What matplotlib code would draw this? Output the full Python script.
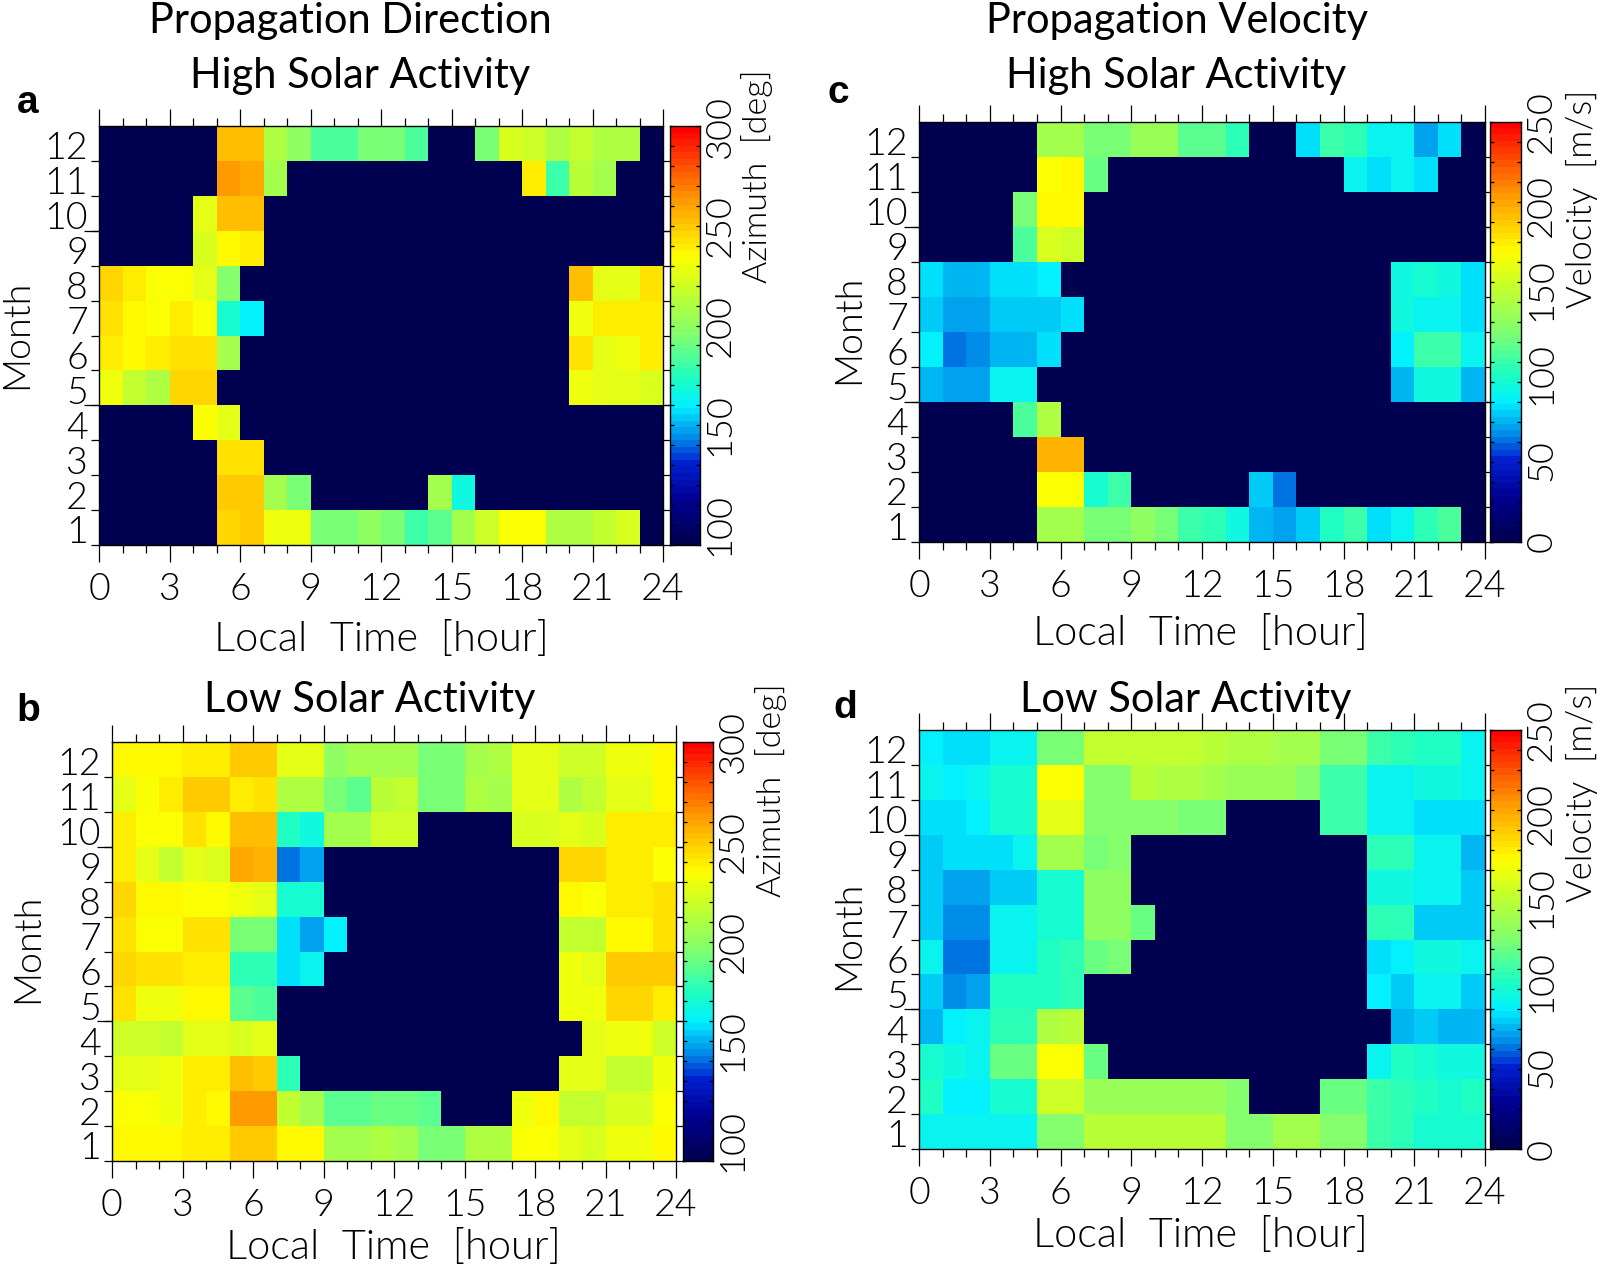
import numpy as np
import matplotlib
matplotlib.use('Agg')
from matplotlib import pyplot as plt
from matplotlib.colors import LinearSegmentedColormap

N = np.nan

# rows are months 1..12, columns are local time hours 0..23
azimuth_high = [
    [N, N, N, N, N, 249, 250, 232, 232, 198, 198, 204, 199, 187, 191, 211, 222, 237, 237, 214, 214, 220, 228, N],
    [N, N, N, N, N, 252, 252, 211, 199, N, N, N, N, N, 211, 174, N, N, N, N, N, N, N, N],
    [N, N, N, N, N, 245, 245, N, N, N, N, N, N, N, N, N, N, N, N, N, N, N, N, N],
    [N, N, N, N, 236, 230, N, N, N, N, N, N, N, N, N, N, N, N, N, N, N, N, N, N],
    [234, 219, 214, 247, 247, N, N, N, N, N, N, N, N, N, N, N, N, N, N, N, 233, 231, 231, 228],
    [241, 238, 241, 246, 245, 211, N, N, N, N, N, N, N, N, N, N, N, N, N, N, 246, 231, 232, 243],
    [245, 238, 236, 241, 236, 178, 168, N, N, N, N, N, N, N, N, N, N, N, N, N, 233, 243, 242, 243],
    [247, 242, 236, 235, 229, 201, N, N, N, N, N, N, N, N, N, N, N, N, N, N, 255, 229, 229, 246],
    [N, N, N, N, 226, 238, 241, N, N, N, N, N, N, N, N, N, N, N, N, N, N, N, N, N],
    [N, N, N, N, 229, 255, 255, N, N, N, N, N, N, N, N, N, N, N, N, N, N, N, N, N],
    [N, N, N, N, N, 263, 261, 211, N, N, N, N, N, N, N, N, N, N, 242, 187, 218, 211, N, N],
    [N, N, N, N, N, 255, 255, 215, 204, 189, 189, 199, 197, 189, N, N, 198, 226, 224, 215, 220, 213, 213, N],
]
azimuth_low = [
    [238, 238, 240, 242, 242, 250, 250, 240, 240, 211, 211, 213, 211, 199, 199, 213, 213, 236, 236, 231, 228, 232, 232, 238],
    [236, 236, 233, 242, 238, 264, 264, 219, 211, 191, 191, 195, 195, 193, N, N, N, 233, 238, 219, 219, 226, 226, 236],
    [231, 229, 233, 243, 241, 254, 252, 184, N, N, N, N, N, N, N, N, N, N, N, 231, 231, 219, 219, 232],
    [224, 224, 219, 231, 229, 228, 231, N, N, N, N, N, N, N, N, N, N, N, N, N, 231, 232, 232, 222],
    [245, 233, 233, 238, 238, 193, 189, N, N, N, N, N, N, N, N, N, N, N, N, 233, 233, 249, 249, 242],
    [247, 245, 245, 243, 242, 182, 182, 163, 169, N, N, N, N, N, N, N, N, N, N, 233, 229, 250, 250, 251],
    [245, 236, 236, 245, 245, 199, 199, 164, 155, 166, N, N, N, N, N, N, N, N, N, 221, 219, 238, 238, 245],
    [247, 238, 238, 236, 236, 232, 231, 178, 178, N, N, N, N, N, N, N, N, N, N, 238, 236, 243, 243, 245],
    [241, 229, 221, 229, 226, 260, 258, 148, 155, N, N, N, N, N, N, N, N, N, N, 247, 249, 242, 243, 236],
    [242, 236, 236, 246, 240, 254, 254, 179, 174, 211, 211, 224, 224, N, N, N, N, 228, 228, 229, 228, 242, 242, 241],
    [229, 236, 241, 250, 250, 243, 246, 215, 215, 197, 191, 218, 219, 199, 199, 213, 211, 231, 231, 215, 219, 229, 229, 238],
    [238, 238, 238, 241, 241, 250, 250, 229, 229, 204, 211, 211, 211, 199, 199, 211, 213, 231, 231, 224, 224, 232, 232, 240],
]
velocity_high = [
    [N, N, N, N, N, 140, 138, 122, 122, 132, 122, 108, 102, 90, 74, 70, 75, 100, 108, 82, 88, 104, 112, N],
    [N, N, N, N, N, 170, 170, 95, 108, N, N, N, N, N, 75, 60, N, N, N, N, N, N, N, N],
    [N, N, N, N, N, 198, 198, N, N, N, N, N, N, N, N, N, N, N, N, N, N, N, N, N],
    [N, N, N, N, 110, 144, N, N, N, N, N, N, N, N, N, N, N, N, N, N, N, N, N, N],
    [74, 69, 69, 88, 88, N, N, N, N, N, N, N, N, N, N, N, N, N, N, N, 74, 92, 90, 74],
    [85, 62, 64, 74, 74, 82, N, N, N, N, N, N, N, N, N, N, N, N, N, N, 84, 106, 106, 86],
    [78, 68, 68, 75, 75, 77, 79, N, N, N, N, N, N, N, N, N, N, N, N, N, 90, 88, 86, 79],
    [82, 74, 73, 80, 81, 85, N, N, N, N, N, N, N, N, N, N, N, N, N, N, 92, 95, 90, 80],
    [N, N, N, N, 112, 160, 154, N, N, N, N, N, N, N, N, N, N, N, N, N, N, N, N, N],
    [N, N, N, N, 122, 173, 175, N, N, N, N, N, N, N, N, N, N, N, N, N, N, N, N, N],
    [N, N, N, N, N, 171, 174, 120, N, N, N, N, N, N, N, N, N, N, 86, 80, 86, 80, N, N],
    [N, N, N, N, N, 140, 140, 124, 124, 136, 136, 116, 116, 104, N, N, 80, 108, 104, 86, 86, 70, 79, N],
]
velocity_low = [
    [88, 86, 86, 86, 86, 128, 128, 146, 146, 146, 146, 146, 146, 128, 128, 138, 138, 126, 126, 106, 104, 96, 96, 94],
    [100, 85, 84, 94, 94, 155, 155, 136, 136, 136, 136, 134, 134, 128, N, N, N, 120, 120, 106, 104, 98, 96, 98],
    [96, 90, 88, 118, 118, 170, 170, 120, N, N, N, N, N, N, N, N, N, N, N, 86, 98, 94, 92, 92],
    [72, 85, 88, 104, 104, 142, 146, N, N, N, N, N, N, N, N, N, N, N, N, N, 74, 76, 74, 72],
    [78, 66, 68, 100, 100, 98, 102, N, N, N, N, N, N, N, N, N, N, N, N, 84, 78, 86, 86, 78],
    [86, 62, 62, 88, 88, 98, 102, 120, 122, N, N, N, N, N, N, N, N, N, N, 80, 84, 90, 90, 86],
    [76, 63, 63, 88, 88, 94, 94, 130, 130, 118, N, N, N, N, N, N, N, N, N, 104, 102, 78, 78, 76],
    [78, 67, 67, 78, 78, 96, 96, 130, 130, N, N, N, N, N, N, N, N, N, N, 92, 92, 88, 88, 78],
    [78, 80, 82, 82, 88, 140, 140, 124, 128, N, N, N, N, N, N, N, N, N, N, 102, 102, 86, 86, 74],
    [80, 79, 84, 94, 94, 162, 162, 126, 126, 126, 126, 124, 124, N, N, N, N, 106, 108, 86, 86, 82, 80, 80],
    [86, 85, 86, 94, 94, 168, 168, 128, 128, 146, 144, 142, 140, 136, 136, 134, 126, 106, 106, 86, 86, 90, 90, 86],
    [84, 79, 79, 86, 86, 124, 124, 150, 150, 152, 152, 152, 146, 144, 144, 140, 140, 122, 122, 106, 104, 98, 98, 86],
]

hour_ticks = [0, 3, 6, 9, 12, 15, 18, 21, 24]
month_labels = [1, 2, 3, 4, 5, 6, 7, 8, 9, 10, 11, 12]
azimuth_cbar = [100, 150, 200, 250, 300]
azimuth_cbar_pos = [0.048, 0.287, 0.523, 0.763, 1.0]
velocity_cbar = [0, 50, 100, 150, 200, 250]
velocity_cbar_pos = [0.0, 0.195, 0.40, 0.60, 0.80, 1.0]

FIG_W, FIG_H = 1598, 1270
plt.rcParams['font.family'] = ['Lato', 'DejaVu Sans']
THIN = 300

cmap = LinearSegmentedColormap.from_list('tec', [
    (0.00, '#000050'), (0.10, '#000090'), (0.19, '#0020d0'), (0.25, '#0088e8'),
    (0.33, '#00f0ff'), (0.40, '#20ffc0'), (0.50, '#80ff70'), (0.60, '#c0ff30'),
    (0.69, '#ffff00'), (0.82, '#ffa000'), (0.91, '#ff5000'), (1.00, '#ff0000')], N=64)
cmap.set_bad('#000050')

fig = plt.figure(figsize=(FIG_W / 100, FIG_H / 100), dpi=100)


def box(x0, y0, x1, y1):
    # pixel box, y measured from the top of the picture
    return [x0 / FIG_W, 1 - y1 / FIG_H, (x1 - x0) / FIG_W, (y1 - y0) / FIG_H]


def put(x, y, s, **kw):
    fig.text(x / FIG_W, 1 - y / FIG_H, s, ha='center', va='center', **kw)


def panel(values, vmin, vmax, ax_box, cb_box, cb_ticks, cb_pos):
    ax = fig.add_axes(box(*ax_box))
    hours = np.arange(25)
    months = np.arange(13)
    ax.pcolormesh(hours, months, np.array(values, dtype=float), cmap=cmap, vmin=vmin, vmax=vmax)
    ax.set_xlim(0, 24)
    ax.set_ylim(0, 12)
    ax.set_xticks(hour_ticks)
    ax.set_xticks(np.arange(25), minor=True)
    ax.tick_params(axis='x', which='major', top=True, length=12, width=0.9, labelsize=27, pad=8)
    ax.tick_params(axis='x', which='minor', top=True, length=6, width=0.9)
    # month labels sit a little under the middle of their row
    ax.set_yticks(np.arange(12) + 0.43)
    ax.set_yticklabels(month_labels)
    ax.set_yticks(np.arange(12), minor=True)
    ax.tick_params(axis='y', which='major', length=0, labelsize=27, pad=8)
    ax.tick_params(axis='y', which='minor', left=True, right=True, length=5.5, width=0.9)
    for t in ax.get_xticklabels() + ax.get_yticklabels():
        t.set_fontweight(THIN)
    for side in ('left', 'right'):
        sec = ax.secondary_yaxis(side)
        sec.set_yticks([4, 9])
        sec.set_yticklabels([])
        sec.tick_params(length=11, width=0.9)
        sec.spines[side].set_visible(False)
    for sp in ax.spines.values():
        sp.set_linewidth(1.0)

    cb = fig.add_axes(box(*cb_box))
    cb.imshow(np.linspace(vmin, vmax, 64)[::-1].reshape(-1, 1), cmap=cmap, vmin=vmin, vmax=vmax,
              aspect='auto', extent=[0, 1, vmin, vmax], interpolation='nearest')
    cb.set_xticks([])
    cb.yaxis.tick_left()
    cb.set_yticks(np.linspace(vmin, vmax, 22))
    cb.set_yticklabels([])
    cb.tick_params(axis='y', direction='in', left=True, right=True, length=3, width=0.9)
    for sp in cb.spines.values():
        sp.set_linewidth(1.0)
    for t, p in zip(cb_ticks, cb_pos):
        cb.text(1.65, p, str(t), transform=cb.transAxes, rotation=90, ha='center', va='center',
                fontsize=26, fontweight=THIN)
    return ax


panel(azimuth_high, 100, 300, (99, 126, 663, 545), (670, 126, 700, 545), azimuth_cbar, azimuth_cbar_pos)
panel(azimuth_low, 100, 300, (112, 742, 676, 1161), (683, 742, 713, 1161), azimuth_cbar, azimuth_cbar_pos)
panel(velocity_high, 0, 250, (919, 122, 1485, 542), (1490, 122, 1521, 542), velocity_cbar, velocity_cbar_pos)
panel(velocity_low, 0, 250, (919, 730, 1485, 1149), (1490, 730, 1521, 1149), velocity_cbar, velocity_cbar_pos)

# titles
for x, y, s in [(350, 21, 'Propagation Direction'), (360, 76, 'High Solar Activity'),
                (370, 700, 'Low Solar Activity'), (1177, 21, 'Propagation Velocity'),
                (1176, 76, 'High Solar Activity'), (1186, 700, 'Low Solar Activity')]:
    put(x, y, s, fontsize=30, fontweight='normal')

# panel letters
for x, y, s in [(28, 103, 'a'), (28, 711, 'b'), (838, 93, 'c'), (845, 708, 'd')]:
    put(x, y, s, fontsize=28, fontweight='bold', family='Liberation Sans')

# axis labels
for x, y in [(381, 640), (393, 1248), (1200, 634), (1200, 1236)]:
    put(x, y, 'Local  Time  [hour]', fontsize=30, fontweight=THIN)
for x, y in [(17, 334), (28, 948), (849, 329), (849, 935)]:
    put(x, y, 'Month', fontsize=27, fontweight=THIN, rotation=90)
for x, y in [(757, 176), (771, 790)]:
    put(x, y, 'Azimuth  [deg]', fontsize=24.5, fontweight=THIN, rotation=90)
for x, y in [(1582, 199), (1582, 793)]:
    put(x, y, 'Velocity  [m/s]', fontsize=25, fontweight=THIN, rotation=90)

fig.savefig('out.png', dpi=100)
